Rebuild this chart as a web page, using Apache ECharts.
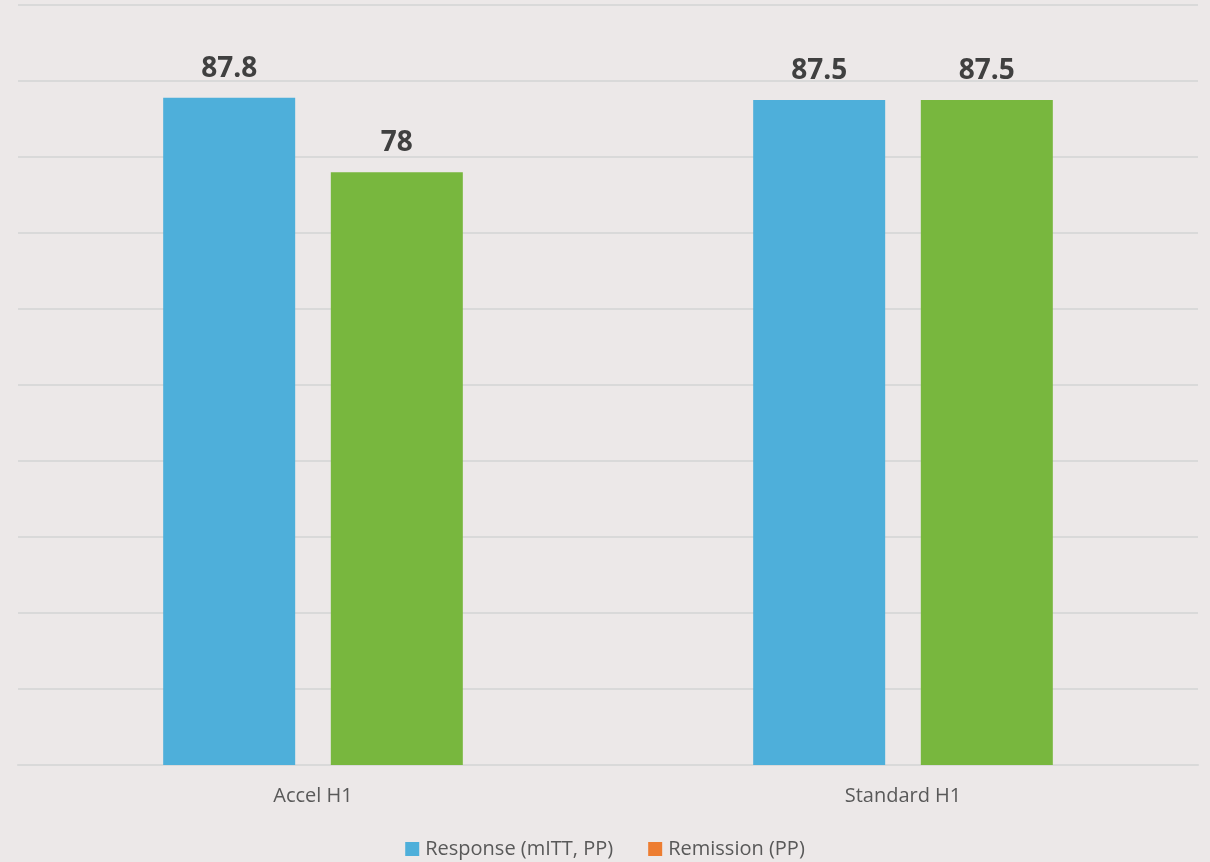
<!DOCTYPE html>
<html><head><meta charset="utf-8">
<script src="https://cdn.jsdelivr.net/npm/echarts@6/dist/echarts.min.js"></script>
<style>html,body{margin:0;padding:0;background:#ECE8E8;}#c{width:1210px;height:862px;}</style>
</head><body><div id="c"></div>
<script>
const categories = ['Accel H1', 'Standard H1'];
const seriesNames = ['Response (mITT, PP)', 'Remission (PP)'];
const responseValues = [87.8, 87.5];
const remissionValues = [78, 87.5];

const chart = echarts.init(document.getElementById('c'), null, {renderer: 'canvas'});
const labelStyle = {show: true, position: 'top', distance: 15, fontFamily: 'Open Sans', fontWeight: 'bold', fontSize: 28, color: '#404040'};
chart.setOption({
  backgroundColor: '#ECE8E8',
  animation: false,
  grid: {left: 18, right: 12, top: 5, bottom: 97, containLabel: false},
  legend: {
    bottom: -2, left: 'center', itemWidth: 14, itemHeight: 14, itemGap: 35,
    icon: 'rect',
    textStyle: {fontFamily: 'Open Sans', fontSize: 20, color: '#595959', padding: [0,0,0,1]},
    data: seriesNames
  },
  xAxis: {
    type: 'category', data: categories,
    axisLine: {show: true, lineStyle: {color: '#D9D9D9', width: 2}},
    axisTick: {show: false},
    axisLabel: {fontFamily: 'Open Sans', fontSize: 20, color: '#595959', margin: 21}
  },
  yAxis: {
    type: 'value', min: 0, max: 100, interval: 10,
    axisLabel: {show: false}, axisLine: {show: false}, axisTick: {show: false},
    splitLine: {lineStyle: {color: '#D9D9D9', width: 2}}
  },
  series: [
    {name: seriesNames[0], type: 'bar', data: responseValues, barWidth: 132, barGap: '27%',
     itemStyle: {color: '#4EAFDA'}, label: labelStyle},
    {name: seriesNames[1], type: 'bar', data: remissionValues.map(v => ({value: v, itemStyle: {color: '#78B73E'}})), barWidth: 132,
     itemStyle: {color: '#ED7D31'}, label: labelStyle}
  ]
});
</script></body></html>
